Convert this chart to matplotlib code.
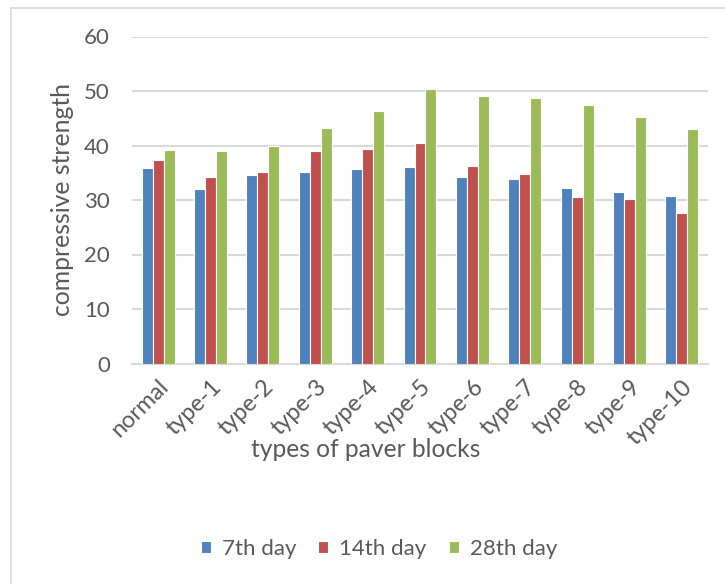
import numpy as np
import matplotlib.pyplot as plt
from matplotlib.patches import Rectangle

# --- Data: compressive strength per paver block type ---
categories = ["normal", "type-1", "type-2", "type-3", "type-4", "type-5",
              "type-6", "type-7", "type-8", "type-9", "type-10"]
day7 = [35.9, 32.1, 34.5, 35.1, 35.6, 36.0, 34.2, 33.8, 32.2, 31.4, 30.7]
day14 = [37.3, 34.3, 35.1, 39.0, 39.4, 40.5, 36.3, 34.8, 30.5, 30.1, 27.6]
day28 = [39.2, 39.0, 40.0, 43.2, 46.4, 50.3, 49.0, 48.8, 47.4, 45.3, 43.0]
series_names = ["7th day", "14th day", "28th day"]
colors = ["#4F81BD", "#C0504D", "#9BBB59"]

TXT = "#595959"
plt.rcParams['font.family'] = ['Lato', 'DejaVu Sans']

fig = plt.figure(figsize=(7.25, 5.84), dpi=100)
W, H = 725, 584
ax = fig.add_axes([132 / W, 1 - 363.5 / H, (708 - 132) / W, (363.5 - 36.5) / H])

x = np.arange(len(categories))
bw = 0.21
for i, (vals, name, c) in enumerate(zip([day7, day14, day28], series_names, colors)):
    ax.bar(x + (i - 1) * bw, vals, width=bw, color=c, edgecolor="white",
           linewidth=0.8, label=name, zorder=3)

ax.set_xlim(-0.5, len(categories) - 0.5)
ax.set_ylim(0, 60)
ax.set_yticks(range(0, 61, 10))
ax.yaxis.grid(True, color="#D9D9D9", linewidth=1.5, zorder=0)
ax.set_axisbelow(True)
for s in ["top", "right", "left"]:
    ax.spines[s].set_visible(False)
ax.spines["bottom"].set_color("#D9D9D9")
ax.spines["bottom"].set_linewidth(1.5)
ax.tick_params(axis="both", length=0, colors=TXT, labelsize=16)
ax.tick_params(axis="y", pad=16)

ax.set_xticks(x)
ax.set_xticklabels(categories, rotation=45, ha="right", rotation_mode="anchor",
                   fontsize=16.8, color=TXT)
ax.tick_params(axis="x", pad=9)

ax.set_ylabel("compressive strength", fontsize=17.8, color=TXT)
ax.yaxis.set_label_coords(-0.10, 0.5)
ax.set_xlabel("types of paver blocks", fontsize=17.7, color=TXT, va="center")
ax.xaxis.set_label_coords(0.405, -0.262)

fig.legend(loc="center", bbox_to_anchor=(379 / W, 1 - 549 / H), ncol=3,
           frameon=False, fontsize=16, handlelength=0.45, handleheight=0.45,
           handletextpad=0.5, columnspacing=1.0, labelcolor=TXT)

# outer chart border
fig.patches.append(Rectangle((11 / W, -0.1), 1.2, 1 - 8 / H + 0.1,
                             transform=fig.transFigure, fill=False,
                             edgecolor="#D9D9D9", linewidth=1.2))

fig.savefig("out.png", dpi=100)
